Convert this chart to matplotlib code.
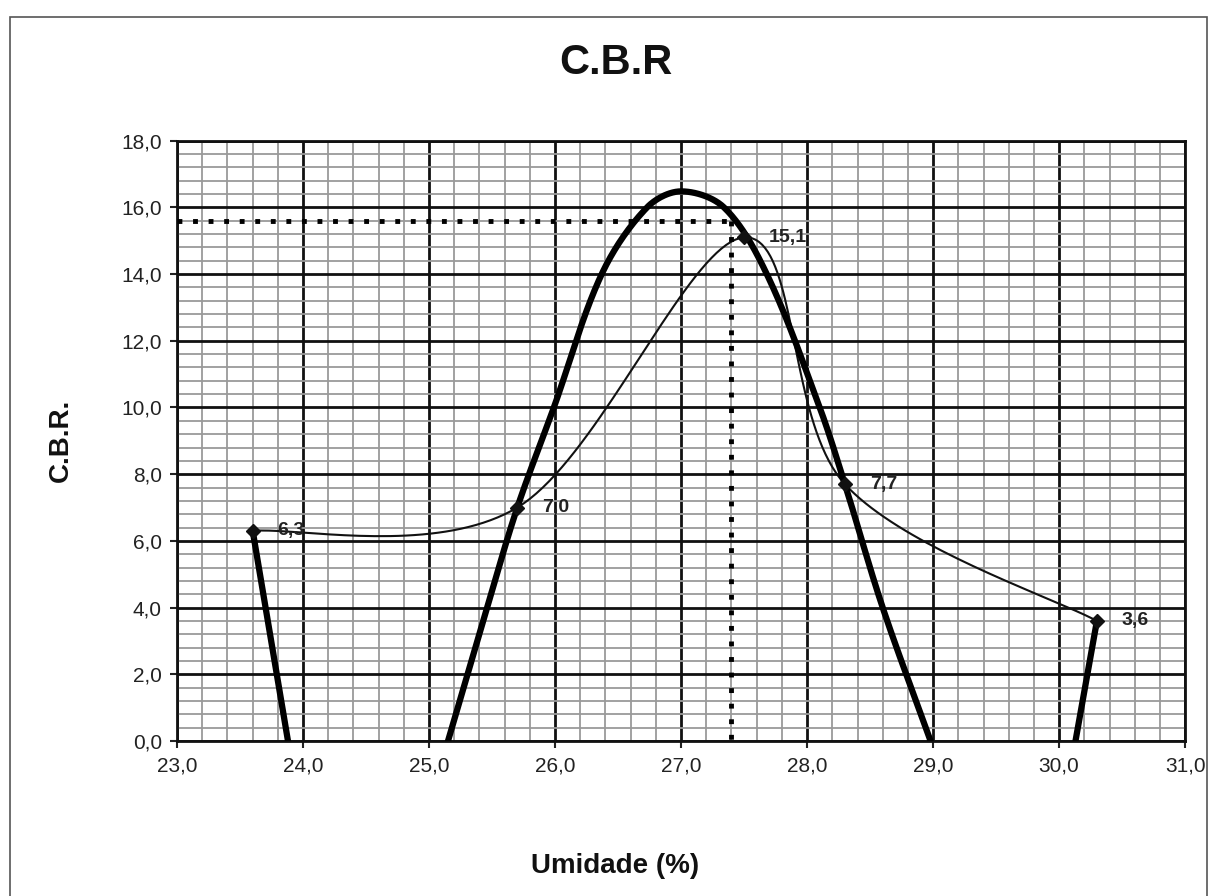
import numpy as np
import matplotlib
matplotlib.use("Agg")
import matplotlib.pyplot as plt
from matplotlib.patches import Rectangle
from matplotlib.ticker import MultipleLocator, FuncFormatter

plt.rcParams["font.family"] = ["Liberation Sans", "DejaVu Sans"]

# ==========================================
# Data
# ==========================================
umidade = [23.6, 25.7, 27.5, 28.3, 30.3]
cbr = [6.3, 7.0, 15.1, 7.7, 3.6]
labels = ["6,3", "7,0", "15,1", "7,7", "3,6"]

# thick hand-drawn curve
curve_x = [25.15, 25.46, 25.7, 25.99, 26.37, 26.73,
           27.0, 27.34, 27.68, 28.1, 28.3, 28.6, 28.98]
curve_y = [0.0, 4.0, 7.0, 10.0, 14.0, 16.0,
           16.48, 16.0, 14.0, 10.0, 7.7, 4.0, 0.0]
left_x = [23.6, 23.88]
left_y = [6.3, 0.0]
right_x = [30.13, 30.3]
right_y = [0.0, 3.6]

umid_otima = 27.4
cbr_max = 15.6


def smooth(xs, ys, n=40):
    # Excel-like smoothed line (Catmull-Rom as cubic Bezier)
    p = np.column_stack([xs, ys]).astype(float)
    out = []
    for i in range(len(p) - 1):
        p0 = p[i - 1] if i > 0 else p[i]
        p1, p2 = p[i], p[i + 1]
        p3 = p[i + 2] if i + 2 < len(p) else p[i + 1]
        c1 = p1 + (p2 - p0) / 6.0
        c2 = p2 - (p3 - p1) / 6.0
        t = np.linspace(0, 1, n)[:, None]
        seg = ((1 - t) ** 3) * p1 + 3 * ((1 - t) ** 2) * t * c1 \
            + 3 * (1 - t) * t ** 2 * c2 + t ** 3 * p2
        out.append(seg if i == 0 else seg[1:])
    s = np.vstack(out)
    return s[:, 0], s[:, 1]


def smooth_chord(xs, ys, sx=126.0, sy=33.3, n=40):
    # chord-length Catmull-Rom in screen-like units, for unevenly spaced points
    p = np.column_stack([np.asarray(xs) * sx, np.asarray(ys) * sy])
    d = np.r_[0, np.cumsum(np.hypot(*np.diff(p, axis=0).T))]
    m = np.zeros_like(p)
    m[0] = (p[1] - p[0]) / (d[1] - d[0])
    m[-1] = (p[-1] - p[-2]) / (d[-1] - d[-2])
    for i in range(1, len(p) - 1):
        m[i] = (p[i + 1] - p[i - 1]) / (d[i + 1] - d[i - 1])
    out = []
    for i in range(len(p) - 1):
        h = d[i + 1] - d[i]
        t = np.linspace(0, 1, n)[:, None]
        h00 = 2 * t ** 3 - 3 * t ** 2 + 1
        h10 = t ** 3 - 2 * t ** 2 + t
        h01 = -2 * t ** 3 + 3 * t ** 2
        h11 = t ** 3 - t ** 2
        seg = h00 * p[i] + h10 * h * m[i] + h01 * p[i + 1] + h11 * h * m[i + 1]
        out.append(seg if i == 0 else seg[1:])
    s = np.vstack(out)
    return s[:, 0] / sx, s[:, 1] / sy


fig = plt.figure(figsize=(12.13, 8.96), dpi=100)
ax = fig.add_axes([0.146, 0.173, 0.831, 0.670])

# chart border
fig.patches.append(Rectangle((0.008, -0.01), 0.987, 0.991, transform=fig.transFigure,
                             fill=False, edgecolor="#555555", linewidth=1.2))

ax.set_xlim(23, 31)
ax.set_ylim(0, 18)
ax.xaxis.set_major_locator(MultipleLocator(1.0))
ax.xaxis.set_minor_locator(MultipleLocator(0.2))
ax.yaxis.set_major_locator(MultipleLocator(2.0))
ax.yaxis.set_minor_locator(MultipleLocator(0.4))
fmt = FuncFormatter(lambda v, pos: f"{v:.1f}".replace(".", ","))
ax.xaxis.set_major_formatter(fmt)
ax.yaxis.set_major_formatter(fmt)

ax.grid(which="minor", color="#9a9a9a", linewidth=1.3, zorder=0)
ax.grid(which="major", color="#111111", linewidth=2.0, zorder=0)
ax.set_axisbelow(True)
ax.tick_params(which="major", direction="out", length=5, width=1.5,
               labelsize=15, colors="#222222", pad=6)
ax.tick_params(which="minor", length=0)
for sp in ax.spines.values():
    sp.set_linewidth(2.0)
    sp.set_color("#111111")

# thin smoothed line through the tests
sx, sy = smooth(umidade, cbr)
ax.plot(sx, sy, color="#111111", linewidth=1.5, zorder=3)
ax.plot(umidade, cbr, linestyle="none", marker="D", markersize=7,
        color="#111111", zorder=5)

# thick curve
tx, ty = smooth_chord(curve_x, curve_y)
ax.plot(tx, ty, color="#000000", linewidth=4.5, zorder=4)
ax.plot(left_x, left_y, color="#000000", linewidth=4.5, zorder=4)
ax.plot(right_x, right_y, color="#000000", linewidth=4.5, zorder=4)

# dotted reading lines
ax.plot([23, umid_otima], [cbr_max, cbr_max], color="#000000",
        linewidth=3.5, linestyle=(0, (1, 2.2)), zorder=4)
ax.plot([umid_otima, umid_otima], [cbr_max, 0], color="#000000",
        linewidth=3.5, linestyle=(0, (1, 2.2)), zorder=4)

# data labels
for x, y, lab in zip(umidade, cbr, labels):
    ax.annotate(lab, (x, y), xytext=(18, 0), textcoords="offset points",
                ha="left", va="center", fontsize=14, fontweight="bold",
                color="#222222", zorder=6)

fig.text(0.508, 0.930, "C.B.R", ha="center", va="center",
         fontsize=30, fontweight="bold", color="#111111")
fig.text(0.507, 0.033, "Umidade (%)", ha="center", va="center",
         fontsize=20, fontweight="bold", color="#111111")
fig.text(0.050, 0.508, "C.B.R.", ha="center", va="center", rotation=90,
         fontsize=20, fontweight="bold", color="#111111")

plt.savefig("out.png", dpi=100)
plt.close()
